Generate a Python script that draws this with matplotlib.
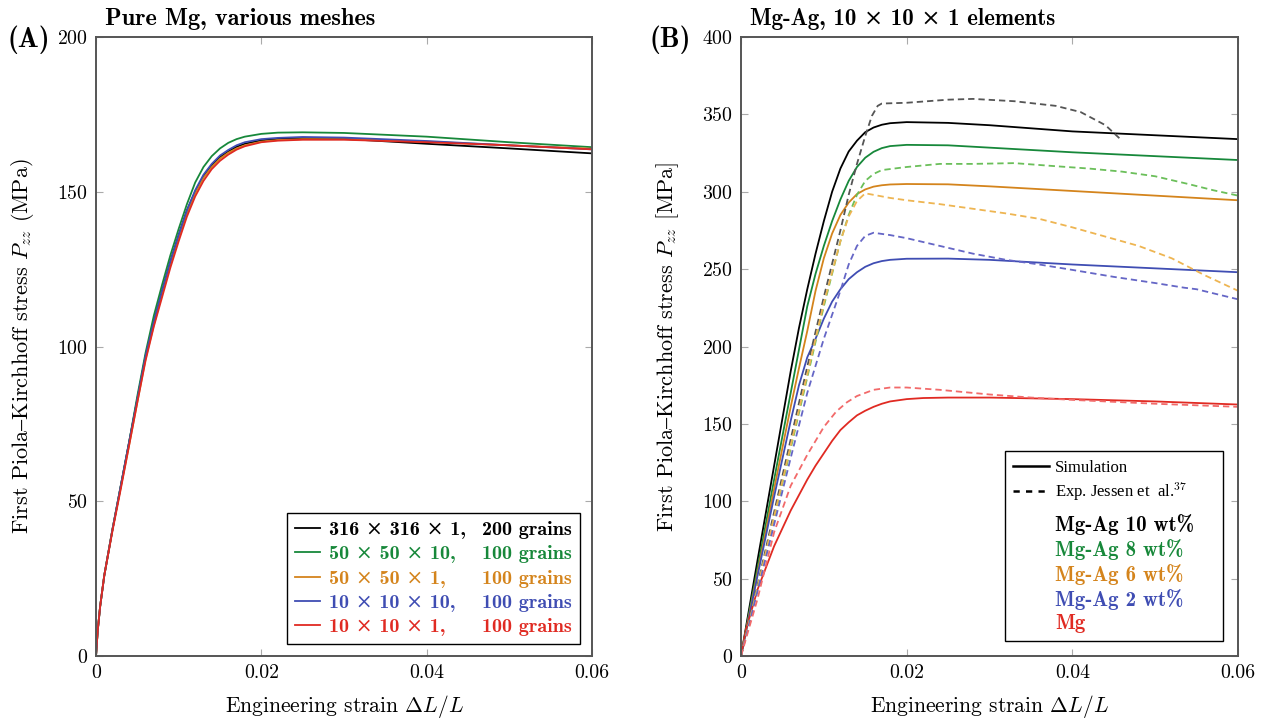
import matplotlib
matplotlib.use('Agg')
import matplotlib.pyplot as plt
from matplotlib.lines import Line2D

plt.rcParams['font.family'] = 'serif'
plt.rcParams['font.serif'] = ['cmr10']
plt.rcParams['mathtext.fontset'] = 'cm'
plt.rcParams['axes.formatter.use_mathtext'] = True

# (A) pure Mg, different meshes
strain_a = [0, 0.0002, 0.0005, 0.001, 0.002, 0.003, 0.004, 0.005, 0.006, 0.007, 0.008, 0.009,
            0.010, 0.011, 0.012, 0.013, 0.014, 0.015, 0.016, 0.017, 0.018, 0.020, 0.022, 0.025,
            0.030, 0.040, 0.050, 0.060]
mg_316 = [0, 8, 16, 26, 41, 55, 69, 83, 97, 108, 118, 127.5, 136, 144, 150, 155, 158.5, 161.2,
          163, 164.5, 165.5, 166.6, 167.1, 167.3, 167.1, 165.5, 164.0, 162.4]
mg_50x10 = [0, 8, 16, 26, 41, 55, 69, 84, 98, 110, 120, 129.5, 138, 146, 153, 158, 161.5, 164,
            165.8, 167, 167.8, 168.7, 169.1, 169.2, 169.0, 167.8, 166.0, 164.4]
mg_50x1 = [0, 8, 16, 26, 41, 54.5, 68, 82, 96, 107, 117, 126.5, 135, 143, 149.5, 154.5, 158, 160.7,
           162.6, 164, 165, 166.2, 166.7, 167.0, 167.0, 166.2, 165.0, 163.9]
mg_10x10 = [0, 8, 16, 26, 41, 55, 69, 83, 97, 108, 118, 127.5, 136, 144, 150.5, 155.5, 159, 161.7,
            163.5, 165, 166, 167.0, 167.4, 167.7, 167.5, 166.4, 165.0, 163.7]
mg_10x1 = [0, 8, 16, 26, 40.5, 54, 68, 82, 95.5, 106.5, 116, 125.5, 134, 142, 148.5, 153.5, 157.3,
           160, 162, 163.6, 164.7, 166.0, 166.5, 166.8, 166.8, 166.0, 165.0, 163.7]
mesh_labels = ['316 × 316 × 1,', '50 × 50 × 10,', '50 × 50 × 1,', '10 × 10 × 10,', '10 × 10 × 1,']
grain_labels = ['200 grains', '100 grains', '100 grains', '100 grains', '100 grains']

# (B) Mg-Ag alloys, simulation
strain_sim = [0, 0.002, 0.004, 0.006, 0.007, 0.008, 0.009, 0.010, 0.011, 0.012, 0.013, 0.014,
              0.015, 0.016, 0.017, 0.018, 0.020, 0.025, 0.030, 0.040, 0.050, 0.060]
sim_ag10 = [0, 62, 123, 184, 212, 237, 260, 281, 300, 315, 326, 333, 338.5, 341.5, 343.3, 344.3,
            345, 344.5, 343, 339, 336.5, 334]
sim_ag8 = [0, 57, 114, 170, 198, 226, 247, 265, 281, 295, 307, 316, 322, 325.8, 328.2, 329.5,
           330.3, 330, 328.5, 325.5, 323, 320.5]
sim_ag6 = [0, 54, 108, 161, 186, 210, 236, 257, 273, 285, 293, 298.5, 301.5, 303.3, 304.2, 304.7,
           305, 304.8, 303.5, 300.5, 297.5, 294.5]
sim_ag2 = [0, 52, 103, 152, 175, 193, 205, 218, 229, 237, 243.5, 248, 251.5, 253.8, 255.2, 256,
           256.7, 256.8, 256, 253, 250.5, 248]
strain_sim_mg = [0, 0.0006, 0.002, 0.004, 0.006, 0.008, 0.009, 0.010, 0.011, 0.012, 0.013, 0.014,
                 0.015, 0.016, 0.017, 0.018, 0.020, 0.022, 0.025, 0.030, 0.040, 0.050, 0.060]
sim_mg = [0, 17, 43, 71, 94, 114, 123, 131, 139, 146, 151, 155.5, 158.5, 161, 163, 164.5, 166,
          166.7, 167, 167, 166, 164.5, 162.5]

# (B) experiments (Jessen et al.)
exp_ag10_strain = [0, 0.002, 0.004, 0.006, 0.008, 0.010, 0.012, 0.013, 0.014, 0.015, 0.0158,
                   0.0165, 0.017, 0.020, 0.025, 0.028, 0.033, 0.038, 0.041, 0.044, 0.0458]
exp_ag10 = [0, 46, 93, 140, 187, 232, 275, 298, 318, 336, 349, 355.5, 357, 357.5, 359.5, 360,
            358.5, 355.5, 351.5, 343, 334]
exp_ag8_strain = [0, 0.002, 0.004, 0.006, 0.008, 0.010, 0.012, 0.013, 0.014, 0.015, 0.016, 0.017,
                  0.020, 0.024, 0.028, 0.033, 0.038, 0.042, 0.046, 0.050, 0.054, 0.057, 0.060]
exp_ag8 = [0, 44, 89, 134, 180, 226, 268, 285, 298, 307, 311.5, 314, 316, 318, 318, 318.5, 316.5,
           315, 313, 310, 305, 301, 297.5]
exp_ag6_strain = [0, 0.002, 0.004, 0.006, 0.008, 0.010, 0.012, 0.013, 0.014, 0.015, 0.016, 0.018,
                  0.020, 0.024, 0.028, 0.032, 0.036, 0.040, 0.044, 0.048, 0.052, 0.056, 0.060]
exp_ag6 = [0, 44, 90, 136, 182, 228, 268, 284, 294, 299, 298, 296, 294.5, 292, 289, 286, 282.5, 277,
           271, 265, 257, 246, 236]
exp_ag2_strain = [0, 0.002, 0.004, 0.006, 0.008, 0.010, 0.012, 0.013, 0.014, 0.015, 0.016, 0.018,
                  0.020, 0.024, 0.028, 0.032, 0.036, 0.040, 0.045, 0.050, 0.0535, 0.055, 0.060]
exp_ag2 = [0, 42, 85, 128, 170, 205, 236, 253, 265, 271.5, 273.5, 272, 270, 265, 260, 256, 253, 249.5,
           245, 241, 238, 237, 230.5]
exp_mg_strain = [0, 0.002, 0.004, 0.006, 0.008, 0.010, 0.0115, 0.0128, 0.014, 0.016, 0.018, 0.020,
                 0.024, 0.030, 0.035, 0.040, 0.050, 0.060]
exp_mg = [0, 37, 80, 110, 130, 148, 158, 164, 168, 172, 173.5, 173.5, 172, 169, 167, 165.5, 163, 161]
alloy_labels = ['Mg-Ag 10 wt%', 'Mg-Ag 8 wt%', 'Mg-Ag 6 wt%', 'Mg-Ag 2 wt%', 'Mg']

x_ticks = [0, 0.02, 0.04, 0.06]
x_tick_labels = ['0', '0.02', '0.04', '0.06']
y_ticks_a = [0, 50, 100, 150, 200]
y_ticks_b = [0, 50, 100, 150, 200, 250, 300, 350, 400]

sim_colors = ['#000000', '#17883a', '#d4841c', '#3f4db3', '#e02a22']
exp_colors = ['#555555', '#6bbf5a', '#eeb552', '#6566c6', '#f26a6a']
bold = ['cmb10', 'DejaVu Serif']

fig = plt.figure(figsize=(12.66, 7.19), dpi=100)
axa = fig.add_axes([96/1266, 63/719, 496/1266, 619/719])
axb = fig.add_axes([741/1266, 63/719, 497/1266, 619/719])

ylabel = r'First Piola$\mathrm{–}$Kirchhoff stress $P_{zz}$ '
for ax in (axa, axb):
    for s in ax.spines.values():
        s.set_color('#555555')
        s.set_linewidth(1.4)
    ax.tick_params(direction='in', length=5, width=0.8, color='#aaaaaa', labelsize=14.3,
                   top=True, right=True, pad=6)
    ax.set_xlim(0, 0.06)
    ax.set_xticks(x_ticks)
    ax.set_xticklabels(x_tick_labels)
    ax.set_xlabel(r'Engineering strain $\Delta L/L$', fontsize=15.5, labelpad=8)

# panel A
lw = 1.3
mesh_curves = [mg_316, mg_50x10, mg_50x1, mg_10x10, mg_10x1]
for curve, c in zip(mesh_curves, sim_colors):
    axa.plot(strain_a, curve, color=c, lw=lw)
axa.set_ylim(0, 200)
axa.set_yticks(y_ticks_a)
axa.set_ylabel(ylabel + '(MPa)', fontsize=16, labelpad=15)
axa.text(0.018, 1.012, 'Pure Mg, various meshes', family='cmb10', transform=axa.transAxes,
         fontsize=17.5, va='bottom', ha='left')

handles = [Line2D([], [], color=c, lw=lw) for c in sim_colors]
handles += [Line2D([], [], color='none') for _ in grain_labels]
leg = axa.legend(handles, mesh_labels + grain_labels, ncol=2, loc='lower right', fontsize=14.5,
                 fancybox=False, edgecolor='black', framealpha=1, handlelength=1.25,
                 handletextpad=0.45, columnspacing=-0.9, labelspacing=0.3, borderaxespad=0.6,
                 borderpad=0.4)
leg.get_frame().set_linewidth(1.0)
for t, c in zip(leg.get_texts(), sim_colors + sim_colors):
    t.set_color(c)
    t.set_family(bold)

# panel B
axb.plot(strain_sim, sim_ag10, color=sim_colors[0], lw=lw)
axb.plot(strain_sim, sim_ag8, color=sim_colors[1], lw=lw)
axb.plot(strain_sim, sim_ag6, color=sim_colors[2], lw=lw)
axb.plot(strain_sim, sim_ag2, color=sim_colors[3], lw=lw)
axb.plot(strain_sim_mg, sim_mg, color=sim_colors[4], lw=lw)
dash = (3.5, 2.2)
axb.plot(exp_ag10_strain, exp_ag10, color=exp_colors[0], lw=1.3, dashes=dash)
axb.plot(exp_ag8_strain, exp_ag8, color=exp_colors[1], lw=1.3, dashes=dash)
axb.plot(exp_ag6_strain, exp_ag6, color=exp_colors[2], lw=1.3, dashes=dash)
axb.plot(exp_ag2_strain, exp_ag2, color=exp_colors[3], lw=1.3, dashes=dash)
axb.plot(exp_mg_strain, exp_mg, color=exp_colors[4], lw=1.3, dashes=dash)
axb.set_ylim(0, 400)
axb.set_yticks(y_ticks_b)
axb.set_ylabel(ylabel + '[MPa]', fontsize=16, labelpad=15)
axb.text(0.018, 1.012, 'Mg-Ag, 10 × 10 × 1 elements', family=bold,
         transform=axb.transAxes, fontsize=16.5, va='bottom', ha='left')

handles_b = [Line2D([], [], color='black', lw=1.8),
             Line2D([], [], color='black', lw=1.8, dashes=(2.5, 2.5))]
handles_b += [Line2D([], [], color='none') for _ in alloy_labels]
# leading newline gives the gap above the alloy names, trailing spaces widen the box
labels_b = ['Simulation', r'Exp. Jessen et  al.$^{37}$'] + \
           ['\n' + alloy_labels[0] + '   '] + alloy_labels[1:]
legb = axb.legend(handles_b, labels_b, loc='lower right', fontsize=15, fancybox=False,
                  edgecolor='black', framealpha=1, handlelength=1.7, handletextpad=0.3,
                  handleheight=0.3, labelspacing=0.19, borderaxespad=0.7, borderpad=0.4)
legb.get_frame().set_linewidth(1.0)
texts = legb.get_texts()
for t in texts[:2]:
    t.set_family('Liberation Serif')
    t.set_fontsize(12)
for t, c in zip(texts[2:], sim_colors):
    t.set_color(c)
    t.set_family('cmb10')
texts[2].set_linespacing(0.3)

fig.text(8/1266, 1 - 40/719, '(A)', family='cmb10', fontsize=20, va='center', ha='left')
fig.text(650/1266, 1 - 40/719, '(B)', family='cmb10', fontsize=20, va='center', ha='left')

fig.savefig('out.png', dpi=100)
